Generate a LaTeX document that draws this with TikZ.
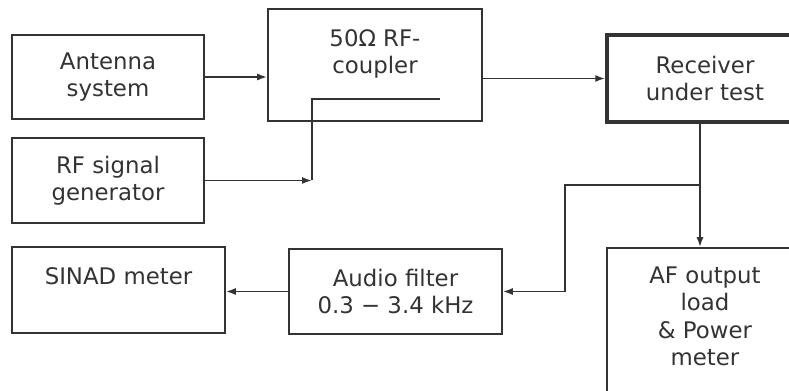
\documentclass[tikz,border=0pt]{standalone}
\usepackage{fontspec}
\setmainfont{DejaVu Sans}
\usetikzlibrary{arrows.meta, positioning, calc}

\definecolor{ink}{HTML}{333333}

\begin{document}
\begin{tikzpicture}[
  x=0.02cm, y=-0.02cm,
  font=\fontsize{13}{15.6}\selectfont,
  box/.style={rectangle, draw=ink, text=ink, line width=0.9pt, align=center, inner sep=2pt},
  arrow/.style={-{Latex[length=2mm,width=1.4mm]}, draw=ink, line width=1pt},
  wire/.style={draw=ink, line width=1pt}
]

\useasboundingbox (0,0) rectangle (789,391);
\clip (0,0) rectangle (789,391);

\node[box, minimum width=3.84cm, minimum height=1.68cm] (ant) at (108,77) {Antenna\\system};
\node[box, minimum width=3.84cm, minimum height=1.70cm] (gen) at (108,180.5) {RF signal\\generator};
\node[box, minimum width=4.28cm, minimum height=2.24cm] (coup) at (375,65) {50Ω RF-\\coupler\\\mbox{}};
\node[box, line width=2pt, minimum width=3.92cm, minimum height=1.74cm] (recv) at (705,78.5) {Receiver\\under test};
\node[box, minimum width=4.26cm, minimum height=1.72cm] (sinad) at (118.5,290) {SINAD meter\\\mbox{}};
\node[box, minimum width=4.26cm, minimum height=1.70cm] (filt) at (395.5,291.5) {Audio filter\\0.3 − 3.4 kHz};
\node[box, minimum width=3.92cm, minimum height=3.28cm] (af) at (705,330) {AF output\\load\\\& Power\\meter\\\mbox{}};

% coupling line inside the coupler
\coordinate (tapin) at (312,99);
\coordinate (tapend) at (440,99);
% audio branch
\coordinate (split) at (700,185);
\coordinate (bend) at (565,185);

\draw[arrow] (ant.east) -- (ant.east -| coup.west);
\draw[arrow] (coup.east |- recv.west) -- (recv.west);
\draw[arrow] (gen.east) -- (gen.east -| tapin);
\draw[wire] (gen.east -| tapin) -- (tapin) -- (tapend);
\draw[arrow] (recv.south -| split) -- (af.north -| split);
\draw[arrow] (split) -- (bend) |- (filt.east);
\draw[arrow] (filt.west) -- (sinad.east |- filt.west);

\end{tikzpicture}
\end{document}
